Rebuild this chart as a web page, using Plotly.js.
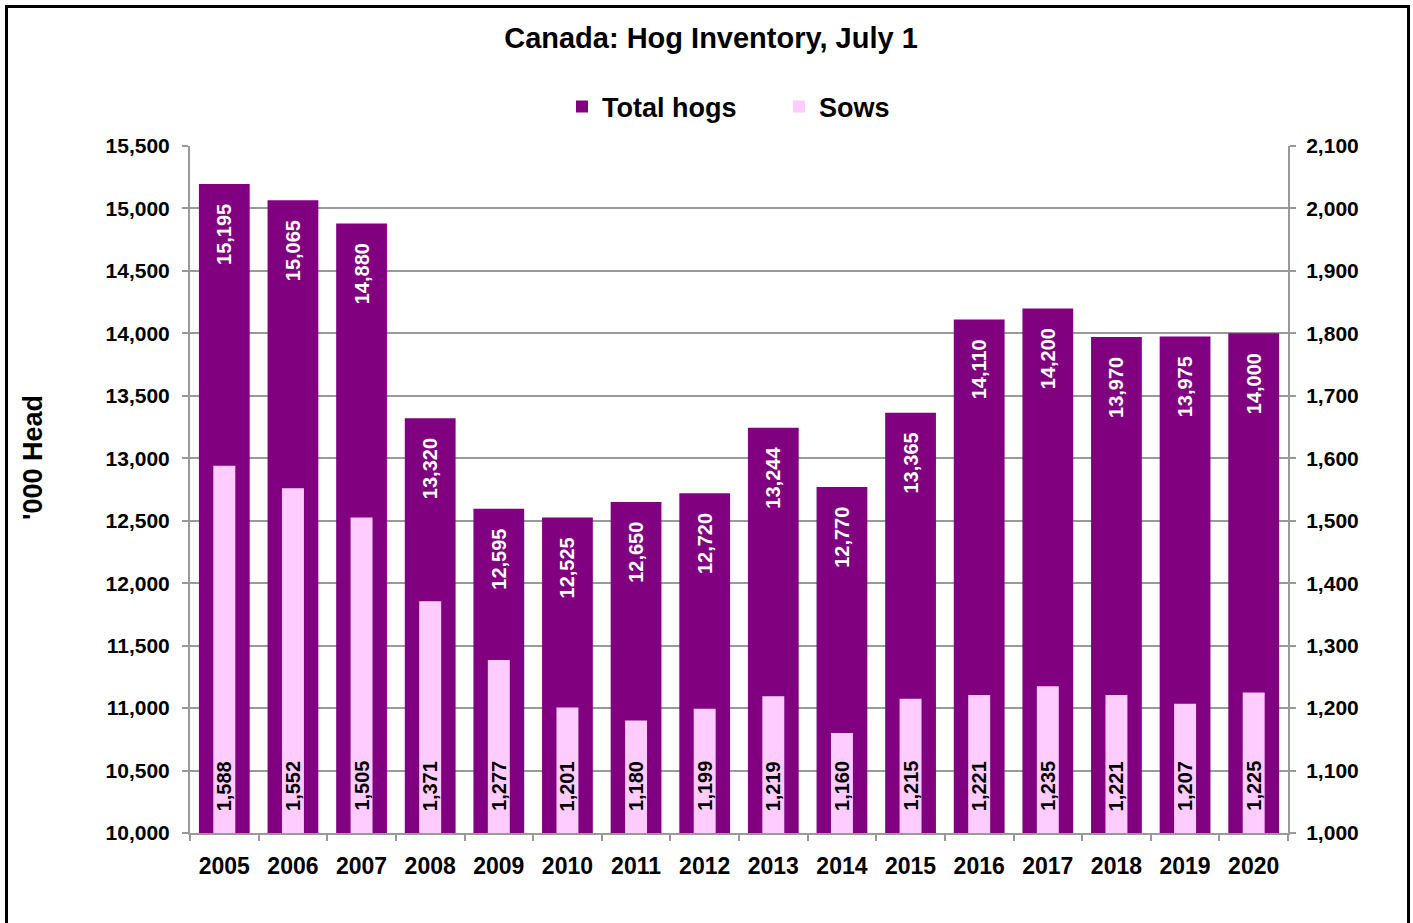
<!DOCTYPE html>
<html>
<head>
<meta charset="utf-8">
<script src="https://cdn.plot.ly/plotly-3.0.1.min.js"></script>
<style>
  html, body { margin: 0; padding: 0; background: #fff; }
  #chart { width: 1413px; height: 923px; }
  #frame { position: absolute; left: 5px; top: 5px; width: 1399px; height: 930px; border: 3px solid #000; pointer-events: none; }
</style>
</head>
<body>
<div id="chart"></div>
<div id="frame"></div>
<script>
const years = ['2005','2006','2007','2008','2009','2010','2011','2012','2013','2014','2015','2016','2017','2018','2019','2020'];
const totalHogs = [15195, 15065, 14880, 13320, 12595, 12525, 12650, 12720, 13244, 12770, 13365, 14110, 14200, 13970, 13975, 14000];
const sows = [1588, 1552, 1505, 1371, 1277, 1201, 1180, 1199, 1219, 1160, 1215, 1221, 1235, 1221, 1207, 1225];
const leftTicks = [10000, 10500, 11000, 11500, 12000, 12500, 13000, 13500, 14000, 14500, 15000, 15500];
const rightTicks = [1000, 1100, 1200, 1300, 1400, 1500, 1600, 1700, 1800, 1900, 2000, 2100];

const fmt = v => v.toLocaleString('en-US');
const pad = '\u00a0\u00a0\u00a0';
const FONT = 'Liberation Sans, Arial, sans-serif';

const traces = [
  {
    type: 'bar', name: 'Total hogs', x: years, y: totalHogs,
    marker: { color: '#800080' }, width: 0.74,
    text: totalHogs.map(v => fmt(v) + pad),
    textposition: 'inside', insidetextanchor: 'end', textangle: -90, constraintext: 'none',
    insidetextfont: { family: FONT, size: 20, color: '#ffffff', weight: 'bold' },
    hoverinfo: 'x+y'
  },
  {
    type: 'bar', name: 'Sows', x: years, y: sows, yaxis: 'y2',
    marker: { color: '#FFCCFF' }, width: 0.32,
    textposition: 'none',
    hoverinfo: 'x+y'
  }
];

// Sow value labels at the base of each sow bar (category index positions on the x axis)
const sowLabels = years.map((yr, i) => ({
  x: i, y: rightTicks[0], xref: 'x', yref: 'y2',
  text: fmt(sows[i]), showarrow: false, textangle: -90,
  xanchor: 'center', yanchor: 'bottom', yshift: 20,
  font: { family: FONT, size: 20, color: '#000000', weight: 'bold' }
}));

const yTitle = {
  text: "'000 Head", showarrow: false, textangle: -90,
  xref: 'paper', yref: 'paper', x: -157 / 1098, y: (833 - 458) / 687,
  xanchor: 'center', yanchor: 'middle',
  font: { family: FONT, size: 27, color: '#000', weight: 'bold' }
};

const axisCommon = {
  showline: true, linecolor: '#999999', linewidth: 2,
  ticks: 'outside', ticklen: 6, tickcolor: '#999999', tickwidth: 2,
  zeroline: false, fixedrange: true
};

const layout = {
  width: 1413, height: 923,
  margin: { l: 190, r: 125, t: 146, b: 90 },
  paper_bgcolor: '#ffffff', plot_bgcolor: '#ffffff',
  font: { family: FONT, color: '#000000', weight: 'bold' },
  title: {
    text: 'Canada: Hog Inventory, July 1',
    font: { family: FONT, size: 29, color: '#000', weight: 'bold' },
    x: 711 / 1413, xref: 'container', xanchor: 'center',
    y: 0.959, yref: 'container', yanchor: 'middle'
  },
  barmode: 'overlay',
  showlegend: true,
  legend: {
    orientation: 'h', x: 562 / 1413, xanchor: 'left', xref: 'container',
    y: 1 - 107 / 923, yref: 'container', yanchor: 'middle',
    font: { family: FONT, size: 27, color: '#000', weight: 'bold' },
    entrywidth: 172, entrywidthmode: 'pixels',
    traceorder: 'normal', bgcolor: 'rgba(0,0,0,0)'
  },
  annotations: sowLabels.concat([yTitle]),
  xaxis: Object.assign({}, axisCommon, {
    type: 'category', tickson: 'boundaries', showgrid: false,
    range: [-0.5, years.length - 0.5],
    tickfont: { family: FONT, size: 23, color: '#000', weight: 'bold' },
    ticklabelstandoff: 11
  }),
  yaxis: Object.assign({}, axisCommon, {
    range: [10000, 15500], tickvals: leftTicks, ticktext: leftTicks.map(fmt),
    showgrid: true, gridcolor: '#999999', gridwidth: 2,
    tickfont: { family: FONT, size: 21, color: '#000', weight: 'bold' },
    ticklabelstandoff: 8
  }),
  yaxis2: Object.assign({}, axisCommon, {
    range: [1000, 2100], tickvals: rightTicks, ticktext: rightTicks.map(fmt),
    overlaying: 'y', side: 'right', showgrid: false,
    tickfont: { family: FONT, size: 21, color: '#000', weight: 'bold' },
    ticklabelstandoff: 6
  })
};

Plotly.newPlot('chart', traces, layout, { displayModeBar: false, staticPlot: true });
</script>
</body>
</html>
